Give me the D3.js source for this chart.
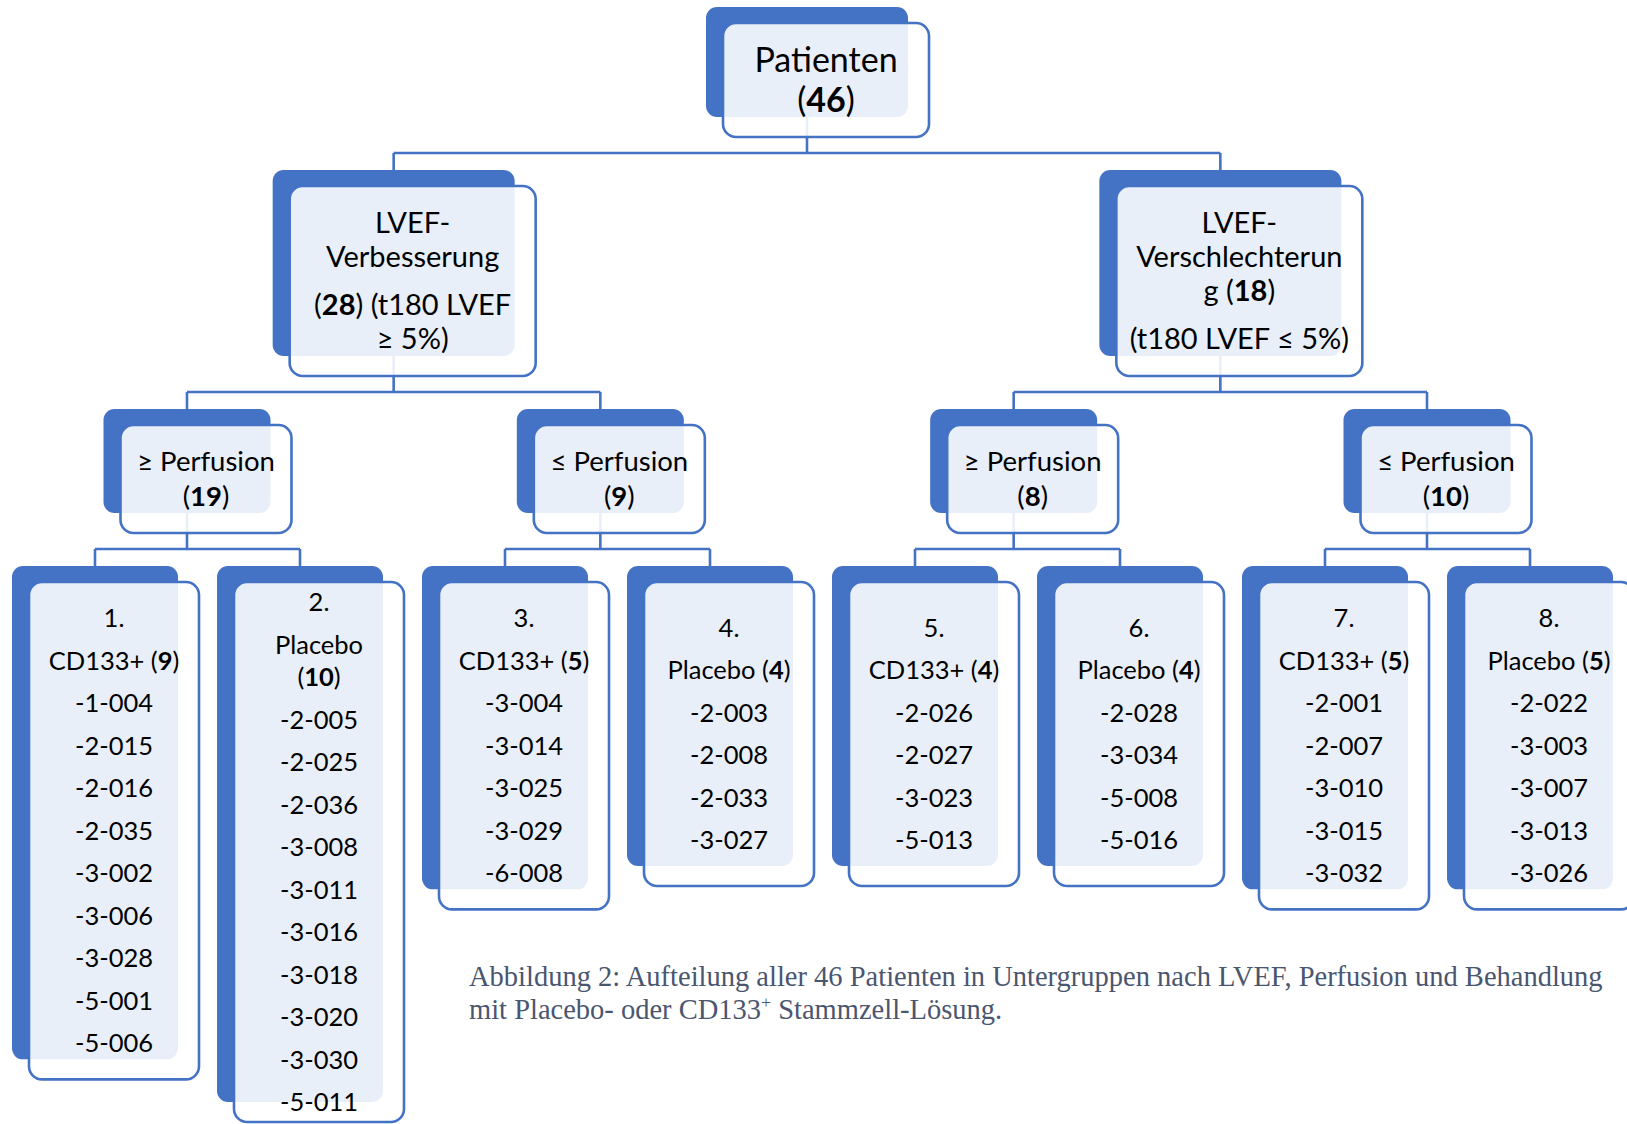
<!DOCTYPE html>
<html><head><meta charset="utf-8">
<script src="https://cdn.jsdelivr.net/npm/d3@7"></script>
<style>html,body{margin:0;padding:0;background:#fff;} svg{display:block;}</style>
</head><body>
<svg id="chart" width="1627" height="1124"></svg>
<script>
// ---------------- data ----------------
const rootLines = [["Patienten", "(**46**)"]];
const lvefLabels = [
  [["LVEF-", "Verbesserung"], ["(**{n}**) (t180 LVEF", "≥ 5%)"]],
  [["LVEF-", "Verschlechterun", "g (**{n}**)"], ["(t180 LVEF ≤ 5%)"]]
];
const lvefCounts = [28, 18];
const perfusionLabels = ["≥ Perfusion", "≤ Perfusion", "≥ Perfusion", "≤ Perfusion"];
const perfusionCounts = [19, 9, 8, 10];
const groupNumbers = ["1.", "2.", "3.", "4.", "5.", "6.", "7.", "8."];
const treatmentLabels = ["CD133+", "Placebo", "CD133+", "Placebo", "CD133+", "Placebo", "CD133+", "Placebo"];
const treatmentCounts = [9, 10, 5, 4, 4, 4, 5, 5];
const patientIds = [
  ["-1-004", "-2-015", "-2-016", "-2-035", "-3-002", "-3-006", "-3-028", "-5-001", "-5-006"],
  ["-2-005", "-2-025", "-2-036", "-3-008", "-3-011", "-3-016", "-3-018", "-3-020", "-3-030", "-5-011"],
  ["-3-004", "-3-014", "-3-025", "-3-029", "-6-008"],
  ["-2-003", "-2-008", "-2-033", "-3-027"],
  ["-2-026", "-2-027", "-3-023", "-5-013"],
  ["-2-028", "-3-034", "-5-008", "-5-016"],
  ["-2-001", "-2-007", "-3-010", "-3-015", "-3-032"],
  ["-2-022", "-3-003", "-3-007", "-3-013", "-3-026"]
];
const captionLines = [
  "Abbildung 2: Aufteilung aller 46 Patienten in Untergruppen nach LVEF, Perfusion und Behandlung",
  "mit Placebo- oder CD133^+ Stammzell-Lösung."
];

// ---------------- style / layout constants ----------------
const W = 1627, H = 1124;
const BLUE = "#4472C4";
const FONT = "Lato, 'Open Sans', sans-serif";
const CAPTION_FONT = "'Liberation Serif', 'DejaVu Serif', serif";
const DX = 17, DY = 16, FRONT_EXTRA = 4, LEVEL_GAP = 33;
const levelStyle = [
  { w: 202, h: 110, fs: 34,   lh: 40,   gap: 0 },
  { w: 242, h: 186, fs: 29,   lh: 34,   gap: 14 },
  { w: 167, h: 104, fs: 27.5, lh: 35,   gap: 0 },
  { w: 166, h: null, fs: 25.5, lh: 32.5, gap: 10, minH: 300, pad: 50 }
];
const leafWrapWidth = 136;

const svg = d3.select("#chart");

// measuring helper
const measureText = svg.append("text").attr("font-family", FONT).style("visibility", "hidden");
function measure(str, fs) {
  measureText.attr("font-size", fs).selectAll("tspan").remove();
  addRich(measureText, str);
  return measureText.node().getComputedTextLength();
}
function addRich(sel, str) {
  str.split(/(\*\*[^*]+\*\*)/).filter(s => s.length).forEach(part => {
    const bold = /^\*\*.*\*\*$/.test(part);
    sel.append("tspan").attr("font-weight", bold ? 700 : 400).text(bold ? part.slice(2, -2) : part);
  });
}

function leafHeader(q) {
  const full = `${treatmentLabels[q]} (**${treatmentCounts[q]}**)`;
  if (measure(full, levelStyle[3].fs) > leafWrapWidth) return [treatmentLabels[q], `(**${treatmentCounts[q]}**)`];
  return [full];
}

// ---------------- hierarchy ----------------
const treeData = {
  level: 0, paras: rootLines,
  children: lvefLabels.map((lab, i) => ({
    level: 1, paras: lab.map(p => p.map(l => l.replace("{n}", lvefCounts[i]))),
    children: [0, 1].map(j => {
      const k = i * 2 + j;
      return {
        level: 2, key: k, paras: [[perfusionLabels[k], `(**${perfusionCounts[k]}**)`]],
        children: [0, 1].map(m => {
          const q = k * 2 + m;
          return { level: 3, key: q, paras: [[groupNumbers[q]], leafHeader(q), ...patientIds[q].map(p => [p])] };
        })
      };
    })
  }))
};
const root = d3.hierarchy(treeData);

function textAdvance(paras, st) {
  let t = 0;
  paras.forEach((p, pi) => p.forEach((l, li) => { if (pi + li > 0) t += (li === 0 ? st.lh + st.gap : st.lh); }));
  return t;
}

// vertical layout per level
const levelTop = [7];
for (let l = 0; l < 3; l++) levelTop.push(levelTop[l] + levelStyle[l].h + DY + FRONT_EXTRA + LEVEL_GAP);

// horizontal: leaves on a band scale, perfusion groups on a point scale
const leaves = root.leaves();
const xLeaf = d3.scaleBand()
  .domain(leaves.map(d => d.data.key))
  .range([12, 1613])
  .paddingInner(1 - 166 / 205)
  .paddingOuter(0);
const xGroup = d3.scalePoint()
  .domain(perfusionLabels.map((_, k) => k))
  .range([187, 1427]);

root.eachAfter(d => {
  const st = levelStyle[d.data.level];
  d.w = st.w;
  if (!d.children) {
    d.cx = xLeaf(d.data.key) + xLeaf.bandwidth() / 2;
    d.w = xLeaf.bandwidth();
  } else if (d.data.level === 2) {
    d.cx = xGroup(d.data.key);
  } else {
    d.cx = d3.mean(d.children, c => c.cx);
  }
  d.x0 = d.cx - d.w / 2;
  d.y0 = levelTop[d.data.level];
  if (st.h) d.h = st.h;
  else {
    const natural = textAdvance(d.data.paras, st) + 0.72 * st.fs + st.pad;
    d.h = Math.min(Math.max(st.minH, natural), H - d.y0 - DY - FRONT_EXTRA - 2);
  }
});

const nodes = root.descendants();

// ---------------- draw ----------------
// back blue boxes
svg.append("g").selectAll("rect").data(nodes).join("rect")
  .attr("x", d => d.x0).attr("y", d => d.y0)
  .attr("width", d => d.w).attr("height", d => d.h)
  .attr("rx", 11).attr("fill", BLUE);

// connectors
const linkG = svg.append("g").attr("fill", "none").attr("stroke", BLUE).attr("stroke-width", 2.6);
root.descendants().filter(d => d.children).forEach(d => {
  const frontBottom = d.y0 + DY + d.h + FRONT_EXTRA;
  const childTop = d3.min(d.children, c => c.y0);
  const ym = Math.round((frontBottom + childTop) / 2) - 1;
  const path = d3.path();
  path.moveTo(d.cx, d.y0 + d.h); path.lineTo(d.cx, ym);
  const xs = d.children.map(c => c.cx);
  path.moveTo(d3.min(xs), ym); path.lineTo(d3.max(xs), ym);
  d.children.forEach(c => { path.moveTo(c.cx, ym); path.lineTo(c.cx, c.y0); });
  linkG.append("path").attr("d", path.toString());
});

// front boxes
svg.append("g").selectAll("rect").data(nodes).join("rect")
  .attr("x", d => d.x0 + DX).attr("y", d => d.y0 + DY)
  .attr("width", d => d.w + FRONT_EXTRA).attr("height", d => d.h + FRONT_EXTRA)
  .attr("rx", 13)
  .attr("fill", "rgba(255,255,255,0.885)")
  .attr("stroke", BLUE).attr("stroke-width", 2.6);

// texts
const textG = svg.append("g").attr("font-family", FONT).attr("fill", "#000").attr("text-anchor", "middle");
nodes.forEach(d => {
  const st = levelStyle[d.data.level];
  const fx = d.x0 + DX + (d.w + FRONT_EXTRA) / 2;
  const fcy = d.y0 + DY + (d.h + FRONT_EXTRA) / 2;
  const T = textAdvance(d.data.paras, st);
  const cap = 0.72 * st.fs;
  let y = fcy + (cap - T) / 2;
  d.data.paras.forEach((p, pi) => p.forEach((line, li) => {
    if (pi + li > 0) y += (li === 0 ? st.lh + st.gap : st.lh);
    const t = textG.append("text").attr("x", fx).attr("y", y).attr("font-size", st.fs);
    addRich(t, line);
  }));
});

// caption
measureText.remove();
const capG = svg.append("g").attr("font-family", CAPTION_FONT).attr("fill", "#4A5670");
const probe = capG.append("text").attr("font-size", 26).text(captionLines[0]);
const capFs = 26 * 1134 / probe.node().getComputedTextLength();
probe.remove();
captionLines.forEach((line, i) => {
  const t = capG.append("text").attr("x", 469).attr("y", 986 + i * 33).attr("font-size", capFs);
  const parts = line.split("^+");
  if (parts.length === 2) {
    t.append("tspan").text(parts[0]);
    t.append("tspan").attr("dy", -capFs * 0.38).attr("font-size", capFs * 0.62).text("+");
    t.append("tspan").attr("dy", capFs * 0.38).text(parts[1]);
  } else t.text(line);
});
</script>
</body></html>
